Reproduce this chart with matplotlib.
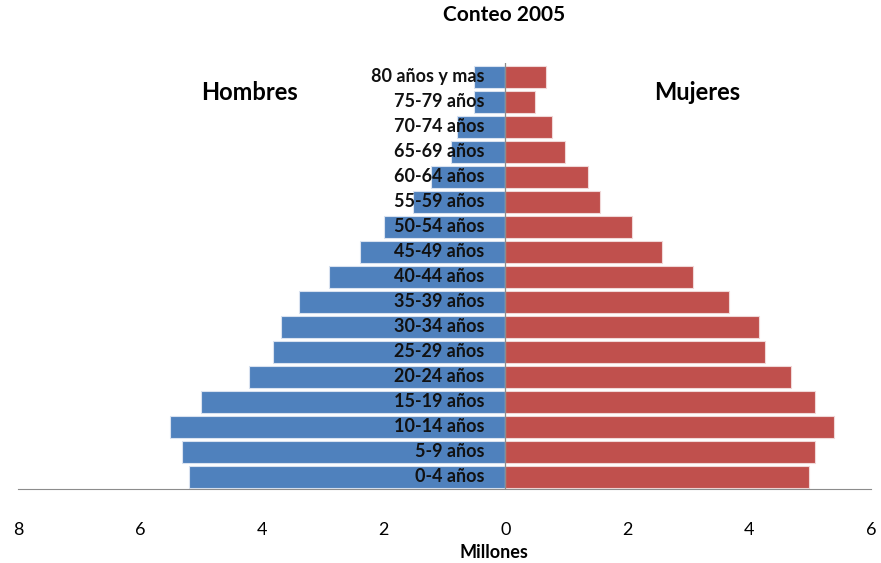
import matplotlib.pyplot as plt
import numpy as np

plt.rcParams['font.family'] = ['Lato', 'DejaVu Sans']

grupos = ["0-4 años", "5-9 años", "10-14 años", "15-19 años", "20-24 años",
          "25-29 años", "30-34 años", "35-39 años", "40-44 años", "45-49 años",
          "50-54 años", "55-59 años", "60-64 años", "65-69 años", "70-74 años",
          "75-79 años", "80 años y mas"]
hombres = [5.20, 5.31, 5.50, 5.00, 4.21, 3.81, 3.69, 3.39, 2.90, 2.39,
           1.99, 1.52, 1.22, 0.90, 0.80, 0.51, 0.51]
mujeres = [4.98, 5.08, 5.39, 5.08, 4.69, 4.26, 4.16, 3.67, 3.08, 2.57,
           2.08, 1.56, 1.36, 0.97, 0.77, 0.49, 0.67]
ticks = [-8, -6, -4, -2, 0, 2, 4, 6]

fig = plt.figure(figsize=(8.81, 5.63), dpi=100)
ax = fig.add_axes([18 / 881, 1 - 489 / 563, 853 / 881, 426 / 563])

y = np.arange(len(grupos))
ax.barh(y, -np.array(hombres), height=0.88, color="#4F81BD",
        edgecolor="#D9E2F0", linewidth=0.8, zorder=2)
ax.barh(y, mujeres, height=0.88, color="#C0504D",
        edgecolor="#F0D8D8", linewidth=0.8, zorder=2)
ax.axvline(0, color="#8C8C8C", lw=0.9, zorder=3)

for yi, g in zip(y, grupos):
    ax.text(-0.34, yi, g, ha="right", va="center", fontsize=13,
            fontweight="bold", color="#111111", zorder=4)

ax.set_xlim(-8, 6)
ax.set_ylim(-0.5, len(grupos) - 0.45)
ax.set_xticks(ticks)
ax.set_xticklabels([str(abs(t)) for t in ticks], fontsize=13)
ax.tick_params(axis="x", length=0, pad=24)
ax.set_yticks([])
for s in ["top", "left", "right"]:
    ax.spines[s].set_visible(False)
ax.spines["bottom"].set_color("#8C8C8C")

fig.text(494 / 881, 1 - 552 / 563, "Millones", ha="center", va="center",
         fontsize=13, fontweight="bold")
fig.text(504 / 881, 1 - 15 / 563, "Conteo 2005", ha="center", va="center",
         fontsize=15, fontweight="bold")
fig.text(249 / 881, 1 - 92 / 563, "Hombres", ha="center", va="center",
         fontsize=17, fontweight="bold")
fig.text(697 / 881, 1 - 92 / 563, "Mujeres", ha="center", va="center",
         fontsize=17, fontweight="bold")

fig.savefig("out.png", dpi=100)
